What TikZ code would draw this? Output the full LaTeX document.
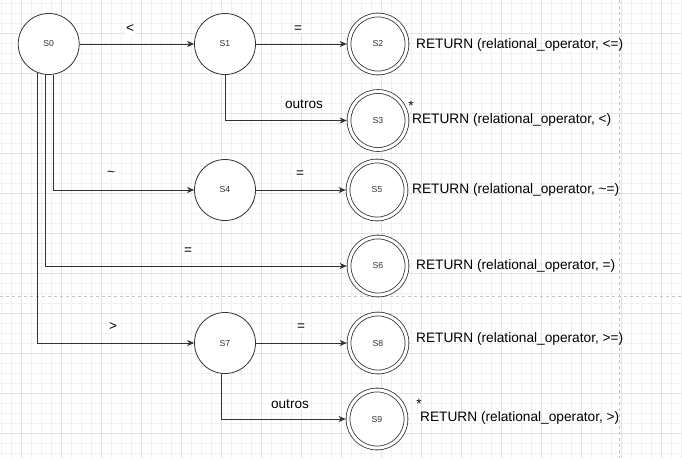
\documentclass[tikz,border=0pt]{standalone}
\usepackage{fontspec}
\setmainfont{Liberation Sans}
\usetikzlibrary{arrows.meta}
\definecolor{edgec}{HTML}{333333}
\definecolor{gridminor}{HTML}{F1F1F1}
\definecolor{gridmajor}{HTML}{E3E3E3}
\definecolor{pagec}{HTML}{C4C4C4}
\begin{document}
\begin{tikzpicture}[x=1pt,y=-1pt,
  state/.style={circle,draw=edgec,line width=0.8pt,fill=white,minimum size=61pt,inner sep=0pt,outer sep=0.4pt,font=\fontsize{8.7}{10}\selectfont,text=edgec},
  accept/.style={circle,draw=edgec,line width=0.8pt,double,double distance=3pt,fill=white,minimum size=58pt,inner sep=0pt,outer sep=2.3pt,font=\fontsize{8.7}{10}\selectfont,text=edgec},
  arrow/.style={draw=edgec,line width=0.8pt,-{Stealth[length=7pt,width=6pt,inset=2pt]}},
  lbl/.style={fill=white,inner sep=1pt,font=\fontsize{13.6}{16}\selectfont},
  ret/.style={anchor=west,inner sep=0pt,font=\fontsize{13.7}{16}\selectfont},
  star/.style={anchor=base,inner sep=0pt,font=\fontsize{13.6}{16}\selectfont},
  minorgrid/.style={draw=gridminor,line width=0.6pt},
  majorgrid/.style={draw=gridmajor,line width=0.6pt},
  pageline/.style={draw=pagec,line width=0.8pt,dash pattern=on 3pt off 3pt}]
\useasboundingbox (0,0) rectangle (682,458);
\fill[white] (0,0) rectangle (682,458);
% grid
\foreach \i in {0,...,68} {\draw[minorgrid] ({1+\i*10},0) -- ({1+\i*10},458);}
\foreach \i in {0,...,45} {\draw[minorgrid] (0,{3+\i*10}) -- (682,{3+\i*10});}
\foreach \i in {0,...,16} {\draw[majorgrid] ({21+\i*40},0) -- ({21+\i*40},458);}
\foreach \i in {0,...,10} {\draw[majorgrid] (0,{33+\i*40}) -- (682,{33+\i*40});}
\draw[pageline] (619,0) -- (619,458);
\draw[pageline] (0,296) -- (682,296);
% states
\node[state] (s0) at (48.7,44) {S0};
\node[state] (s1) at (225,44) {S1};
\node[accept] (s2) at (378,44) {S2};
\node[accept] (s3) at (378,120.5) {S3};
\node[state] (s4) at (225,190) {S4};
\node[accept] (s5) at (377,190) {S5};
\node[accept] (s6) at (378,266) {S6};
\node[state] (s7) at (225,343) {S7};
\node[accept] (s8) at (378,343) {S8};
\node[accept] (s9) at (377,419) {S9};
% transitions
\draw[arrow] (s0) -- (s1);
\draw[arrow] (s1) -- (s2);
\draw[arrow] (s1.south) |- (s3.west);
\draw[arrow] (s0.-82.7) |- (s4.west);
\draw[arrow] (s0.-97.2) |- (s6.west);
\draw[arrow] (s0.-112.2) |- (s7.west);
\draw[arrow] (s4) -- (s5);
\draw[arrow] (s7) -- (s8);
\draw[arrow] (s7.-97.5) |- (s9.west);
% labels
\node[lbl] (l01) at (130,29) {<};
\node[lbl] (l12) at (298,29) {=};
\node[lbl] (l13) at (304,104) {outros};
\node[lbl] (l04) at (111,174) {\textasciitilde};
\node[lbl] (l45) at (300,174) {=};
\node[lbl] (l06) at (188,251) {=};
\node[lbl] (l07) at (113,327) {>};
\node[lbl] (l78) at (301,327) {=};
\node[lbl] (l79) at (290,404) {outros};
% returns
\node[ret] (r2) at (416,45) {RETURN (relational\_operator, <=)};
\node[ret] (r3) at (412,120) {RETURN (relational\_operator, <)};
\node[star] (st3) at (411,110) {*};
\node[ret] (r5) at (412,190) {RETURN (relational\_operator, \textasciitilde=)};
\node[ret] (r6) at (416,266) {RETURN (relational\_operator, =)};
\node[ret] (r8) at (416,339) {RETURN (relational\_operator, >=)};
\node[ret] (r9) at (420,418) {RETURN (relational\_operator, >)};
\node[star] (st9) at (419,408) {*};
\end{tikzpicture}
\end{document}
